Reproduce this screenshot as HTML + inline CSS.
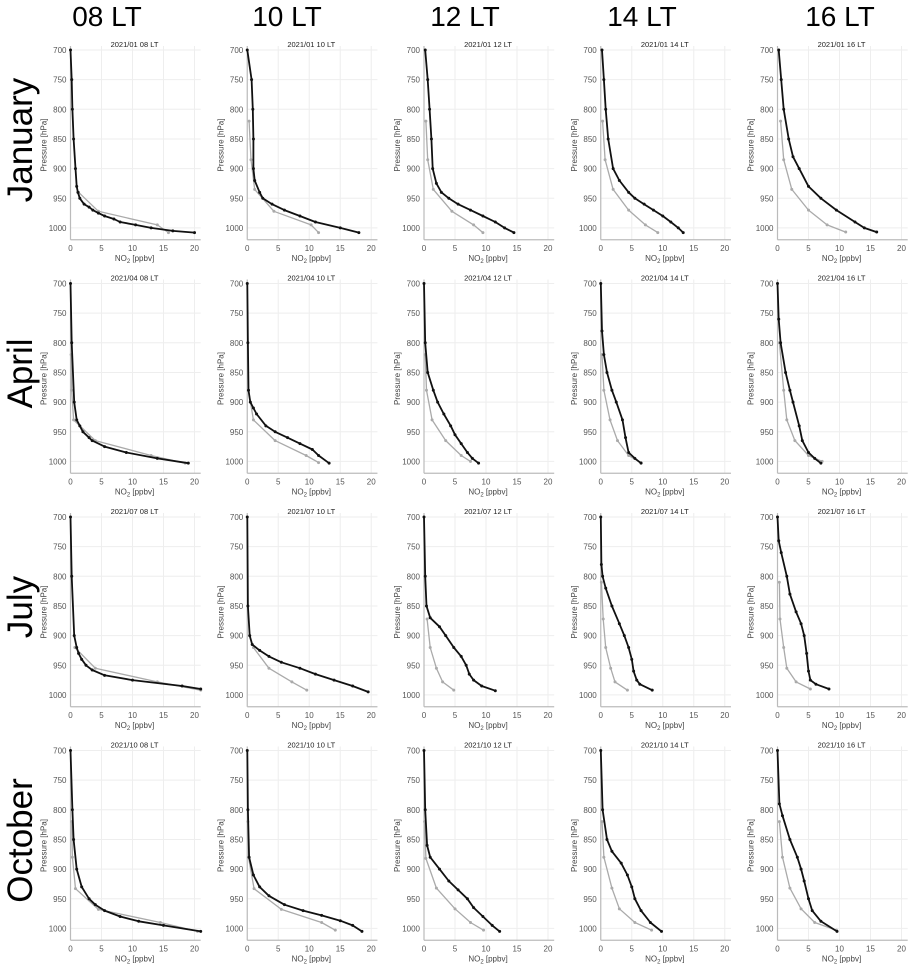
<!DOCTYPE html>
<html><head><meta charset="utf-8"><style>
body{margin:0;background:#fff}
svg{display:block;font-family:"Liberation Sans",sans-serif}
</style></head><body>
<svg id="fig" width="924" height="967"></svg>
<script>
const months=["January","April","July","October"];
const monthCodes=["01","04","07","10"];
const hours=["08","10","12","14","16"];
const xTicks=[0,5,10,15,20];
const yTicks=[700,750,800,850,900,950,1000];
// black profile pressures / values per panel [row][col]
const blackP=[
[[700,750,800,850,900,930,940,950,960,965,970,975,980,985,990,995,1000,1005,1008],[700,750,800,850,900,920,940,950,960,970,980,990,1000,1008],[700,750,800,850,900,925,940,950,960,970,980,990,1000,1008],[700,750,800,850,900,920,940,950,960,970,980,990,1000,1008],[700,750,800,850,880,900,930,950,970,990,1000,1007]],
[[700,800,900,930,940,950,960,965,975,985,995,1003],[700,800,880,900,910,920,940,950,960,970,980,990,1003],[700,800,850,880,900,920,940,955,970,985,995,1003],[700,780,820,850,880,900,930,960,985,995,1003],[700,760,800,850,880,900,940,965,985,995,1003]],
[[700,800,900,920,930,940,950,958,967,975,985,990],[700,850,900,915,925,935,945,955,965,975,985,995],[700,800,850,870,885,900,920,935,950,965,975,985,993],[700,780,800,820,850,880,900,920,940,960,975,982,992],[700,740,760,800,830,860,880,900,930,960,975,982,990]],
[[700,800,850,900,930,950,960,970,980,988,995,1005],[700,800,880,910,930,945,960,970,978,987,995,1005],[700,800,860,880,900,920,935,950,965,980,995,1005],[700,800,850,870,890,910,930,950,970,990,1005],[700,790,810,850,880,900,920,950,970,988,1005]]];
const blackV=[
[[0,0.2,0.3,0.5,0.8,1.0,1.2,1.5,2.2,3,3.6,4.5,5.5,7,8,10.5,13,16.5,20],[0,0.7,0.9,1,1,1.2,2,2.5,4,6,8.5,11,15,18],[0.2,0.6,0.9,1.2,1.4,2,2.8,4,5.5,7.5,9.5,11.5,13,14.5],[0.2,0.5,0.8,1.2,2,3,4.5,5.5,7,8.5,10,11.3,12.5,13.3],[0.2,0.6,1,1.8,2.5,3.5,5,7,9.5,12.5,14,16]],
[[0,0.2,0.6,1,1.5,2,3,3.5,5.5,9,14,19],[0,0.1,0.2,0.5,1,1.5,3,4.5,6.5,8.5,10.5,11.5,13.2],[0,0.2,0.6,1.5,2.2,3.2,4.3,5,6,7,7.8,8.8],[0,0.2,0.5,1,1.8,2.5,3.5,4,4.5,5.5,6.5],[0,0.2,0.5,1.3,2,2.5,3.5,4,5,6,7]],
[[0,0.2,0.6,1,1.3,1.8,2.5,3.5,5.5,10,18,21],[0,0.1,0.4,0.8,2,3.5,5.5,8.5,11,14,17,19.5],[0,0.2,0.4,1,2.5,3.5,4.8,6,6.8,7.3,8,9.3,11.5],[0,0.1,0.3,0.8,1.8,3,3.8,4.5,5,5.3,5.8,6.3,8.3],[0,0.2,0.6,1.5,2,3,3.8,4.3,4.7,5,5.3,6.2,8.3]],
[[0,0.3,0.5,1,1.8,3,4,5.5,8,11,15,21],[0,0.1,0.3,1,2,3.5,6,9,12,15,17,18.5],[0,0.2,0.5,1,2.5,4,5.5,7,8,9.5,11,12.2],[0,0.3,1,1.8,3.3,4.3,5,5.5,6.5,8,9.8],[0,0.3,0.8,2,3.2,3.8,4.3,5,5.6,7,9.6]]];
const greyP=[
[[940,972,995,1008],[820,885,935,972,995,1008],[820,885,935,972,995,1008],[820,885,935,970,995,1008],[820,885,935,970,995,1007]],
[[820,880,930,965,990,1003],[880,930,965,990,1002],[820,880,930,965,990,1000],[820,880,930,965,990,1002],[800,880,930,965,990,1000]],
[[920,955,978,992],[920,955,978,992],[872,920,955,978,992],[810,872,920,955,978,992],[810,872,920,955,978,990]],
[[820,880,933,968,990,1005],[820,880,933,968,990,1003],[820,882,932,967,990,1003],[820,880,932,967,990,1003],[820,880,932,967,990,1003]]];
const greyV=[
[[1.3,4.5,14,15.8],[0.3,0.6,1.2,4.3,10.3,11.5],[0.3,0.6,1.5,4.5,8,9.5],[0.3,0.7,2,4.5,7.2,9.2],[0.5,1,2.3,5,8,11]],
[[0.1,0.2,0.5,4,13,18.5],[0.2,1,4.5,9.5,11.5],[0.2,0.4,1.3,3.5,6,7.5],[0.2,0.5,1.5,2.7,4.5,6.5],[0.3,1,1.5,2.8,5,7.2]],
[[0.7,4,14,21],[1,3.5,7.2,9.6],[0.5,1,2,3,4.8],[0.1,0.4,0.8,1.6,2.3,4.3],[0.3,0.4,1,1.5,3,5.3]],
[[0.2,0.3,0.8,4.5,14.5,20.5],[0.1,0.2,1.1,5.5,12,14.2],[0.1,0.3,2,5,7.5,9.6],[0.2,0.5,1.8,3,5.5,8.2],[0.3,0.8,2,3.8,6,9.5]]];

const NS="http://www.w3.org/2000/svg";
const svg=document.getElementById('fig');
function mk(tag,attrs,parent){const e=document.createElementNS(NS,tag);for(const k in attrs)e.setAttribute(k,attrs[k]);(parent||svg).appendChild(e);return e;}
const colX=c=>70.5+176.75*c, rowY=r=>50+233.5*r;
const XS=6.2, YS=0.593, XMAX=21, PMAX=1020;
const headerX=[107,287,465,642,840];
hours.forEach((h,c)=>{const t=mk('text',{x:headerX[c],y:26,'text-anchor':'middle','font-size':28,fill:'#000'});t.textContent=h+" LT";

});
months.forEach((m,r)=>{const cy=rowY(r)+90;const t=mk('text',{x:0,y:0,'text-anchor':'middle','font-size':35,fill:'#000',transform:`translate(32,${cy}) rotate(-90)`});t.textContent=m;

});

function line(P,V,sx,sy,col,w,rad,g){
  const pts=P.map((p,i)=>sx(V[i]).toFixed(1)+","+sy(p).toFixed(1)).join(" ");
  const pl=mk('polyline',{points:pts,fill:'none',stroke:col,'stroke-width':w,'stroke-linejoin':'round'},g);
  
  
  P.forEach((p,i)=>{const d=mk('circle',{cx:sx(V[i]),cy:sy(p),r:rad,fill:col},g);
  
  });
}
for(let r=0;r<4;r++)for(let c=0;c<5;c++){
  const L=colX(c),T=rowY(r);
  const sx=v=>L+v*XS, sy=p=>T+(p-700)*YS;
  const g=mk('g',{});
  
  
  const B=sy(PMAX),R=sx(XMAX);
  xTicks.forEach(v=>{mk('line',{x1:sx(v),x2:sx(v),y1:T-4,y2:B,stroke:'#eee','stroke-width':1},g);
    const t=mk('text',{x:sx(v),y:B+11,'text-anchor':'middle','font-size':8,fill:'#555'},g);t.textContent=v;
    
    });
  yTicks.forEach(p=>{mk('line',{x1:L,x2:R,y1:sy(p),y2:sy(p),stroke:'#eee','stroke-width':1},g);
    const t=mk('text',{x:L-4,y:sy(p)+3,'text-anchor':'end','font-size':8,fill:'#555'},g);t.textContent=p;
    
    });
  mk('line',{x1:L,x2:R,y1:B,y2:B,stroke:'#bbb','stroke-width':1.2},g);
  mk('line',{x1:L,x2:L,y1:T-4,y2:B,stroke:'#bbb','stroke-width':1.2},g);
  const ti=mk('text',{x:L+64,y:T-3,'text-anchor':'middle','font-size':7.5,fill:'#222'},g);
  ti.textContent=`2021/${monthCodes[r]} ${hours[c]} LT`;
  
  
  const xt=mk('text',{x:L+64,y:B+21,'text-anchor':'middle','font-size':8,fill:'#444'},g);
  xt.innerHTML='NO<tspan font-size="6" dy="2">2</tspan><tspan dy="-2"> [ppbv]</tspan>';
  
  
  const yt=mk('text',{x:0,y:0,'text-anchor':'middle','font-size':8,fill:'#444',transform:`translate(${L-24},${T+95}) rotate(-90)`},g);
  yt.textContent='Pressure [hPa]';
  
  
  line(greyP[r][c],greyV[r][c],sx,sy,'#aaa',1.3,1.5,g);
  line(blackP[r][c],blackV[r][c],sx,sy,'#111',1.8,1.5,g);
}
</script>
</body></html>
